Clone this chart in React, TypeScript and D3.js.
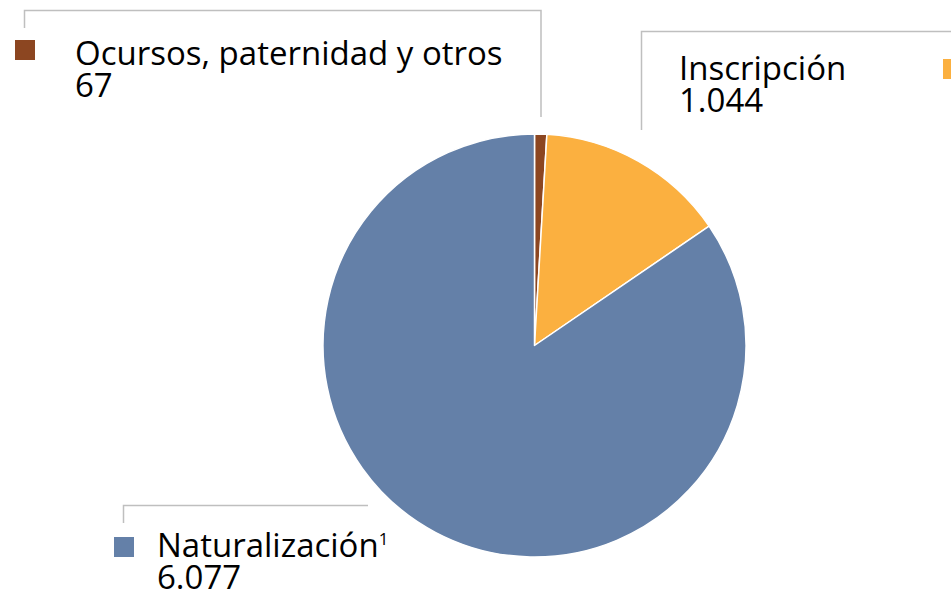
import React from "react";
import * as d3 from "d3";

// categories and values (clockwise from 12 o'clock)
const categories = ["Ocursos, paternidad y otros", "Inscripción", "Naturalización"];
const values = [67, 1044, 6077];
const valueLabels = ["67", "1.044", "6.077"];
const superscripts = ["", "", "1"];
const colors = ["#8C4621", "#FBB040", "#6480A8"];

const width = 951;
const height = 595;
const cx = 534.5;
const cy = 345.5;
const radius = 211.5;

// label placement (layout only)
const labelLayout = [
  { x: 75, y: 65, marker: [15, 40], leader: "M541,117V10.5H24.5V28" },
  { x: 679, y: 80, marker: [943, 59], leader: "M641.5,130V31.5H951" },
  { x: 157, y: 557, marker: [114, 537], leader: "M368,505.5H123.5V523" },
];

const font = "'Open Sans', sans-serif";
const fontSize = 33;
const lineGap = 31.5;

const App = () => {
  const pie = d3
    .pie<number>()
    .sort(null)
    .value((d) => d);
  const arcs = pie(values);
  const arc = d3.arc<d3.PieArcDatum<number>>().innerRadius(0).outerRadius(radius);

  return (
    <svg
      width={width}
      height={height}
      style={{ position: "absolute", left: 0, top: 0, background: "#fff" }}
    >
      <g transform={`translate(${cx},${cy})`}>
        {arcs.map((a, i) => (
          <path
            key={categories[i]}
            d={arc(a) || ""}
            fill={colors[i]}
            stroke="#fff"
            strokeWidth={1.5}
            strokeLinejoin="round"
          />
        ))}
      </g>
      {labelLayout.map((l, i) => (
        <g key={categories[i]}>
          <path d={l.leader} fill="none" stroke="#BFBFBF" strokeWidth={1.5} />
          <rect x={l.marker[0]} y={l.marker[1]} width={20} height={20} fill={colors[i]} />
          <text x={l.x} y={l.y} fontFamily={font} fontSize={fontSize} fill="#000">
            {categories[i]}
            {superscripts[i] && (
              <tspan fontSize={17} dy={-12}>
                {superscripts[i]}
              </tspan>
            )}
          </text>
          <text x={l.x} y={l.y + lineGap} fontFamily={font} fontSize={fontSize} fill="#000">
            {valueLabels[i]}
          </text>
        </g>
      ))}
    </svg>
  );
};

export default App;
